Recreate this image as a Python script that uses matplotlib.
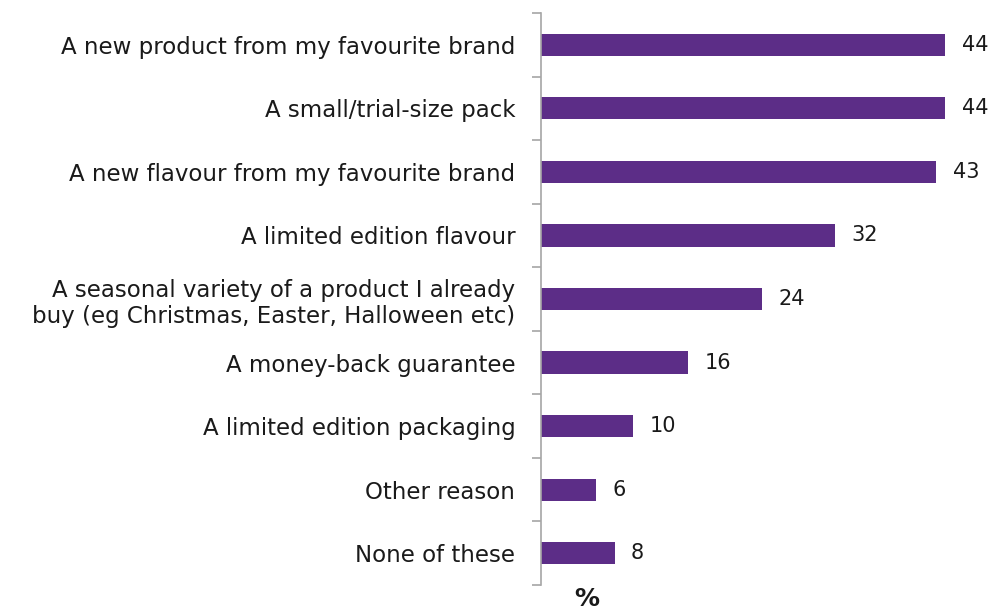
import matplotlib
matplotlib.use('Agg')
import matplotlib.pyplot as plt
import numpy as np

# Reasons for trying a product, share of respondents
labels = [
    'A new product from my favourite brand',
    'A small/trial-size pack',
    'A new flavour from my favourite brand',
    'A limited edition flavour',
    'A seasonal variety of a product I already\nbuy (eg Christmas, Easter, Halloween etc)',
    'A money-back guarantee',
    'A limited edition packaging',
    'Other reason',
    'None of these',
]
values = [44, 44, 43, 32, 24, 16, 10, 6, 8]

BAR_COLOR = '#5c2d87'
AXIS_COLOR = '#a6a6a6'
TEXT_COLOR = '#1a1a1a'

plt.rcParams['font.family'] = ['DejaVu Sans']

fig = plt.figure(figsize=(9.94, 6.15), dpi=100)
ax = fig.add_axes([541 / 994, 1 - 585 / 615, 1 - 541 / 994, (585 - 13) / 615])

y = np.arange(len(labels))
ax.barh(y, values, height=0.35, color=BAR_COLOR)

for yi, v in zip(y, values):
    ax.text(v + 1.8, yi, str(v), va='center', ha='left', fontsize=15, color=TEXT_COLOR)

ax.set_xlim(0, 49.3)
ax.set_ylim(len(labels) - 0.5, -0.5)

# category labels at bar centres, tick marks on the boundaries
ax.set_yticks(y)
ax.set_yticklabels(labels, fontsize=16.5, color=TEXT_COLOR, linespacing=1.2)
ax.set_yticks(np.arange(-0.5, len(labels)), minor=True)
ax.tick_params(axis='y', which='major', length=0, pad=18.5)
ax.tick_params(axis='y', which='minor', length=6.5, width=1.2, color=AXIS_COLOR, direction='out')
ax.set_xticks([])

for side in ['top', 'right', 'bottom']:
    ax.spines[side].set_visible(False)
ax.spines['left'].set_color(AXIS_COLOR)
ax.spines['left'].set_linewidth(1.2)

fig.text(587 / 994, 1 - 599 / 615, '%', ha='center', va='center', fontsize=18, fontweight='bold', color=TEXT_COLOR)

fig.savefig('out.png', dpi=100)
